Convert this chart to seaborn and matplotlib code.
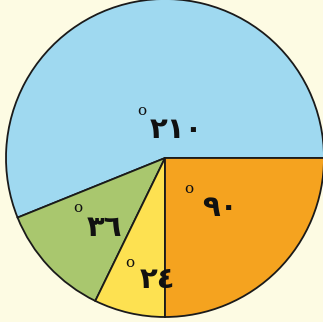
import numpy as np
import matplotlib
matplotlib.use("Agg")
import matplotlib.pyplot as plt
import seaborn as sns

sns.set_theme(style="white")
plt.rcParams['font.family'] = ['DejaVu Sans', 'Noto Sans']

# الزوايا كما تظهر مرسومة في الشكل (بالدرجات)
drawn_angles = [202, 42, 26, 90]
# النصوص المكتوبة على القطاعات
labels = ["٢١٠", "٣٦", "٢٤", "٩٠"]
colors = ["#9fd9f0", "#a9c76e", "#fde151", "#f5a31f"]

# مواضع النصوص (بوحدات نصف القطر، الحافة اليسرى للنص)
label_xy = [(-0.094, 0.176), (-0.491, -0.44), (-0.157, -0.767), (0.233, -0.314)]
degree_xy = [(-0.147, 0.297), (-0.547, -0.314), (-0.22, -0.66), (0.151, -0.195)]

bg = "#fdfbe3"
fig = plt.figure(figsize=(3.23, 3.22), dpi=100)
fig.patch.set_facecolor(bg)
ax = fig.add_axes([0, 0, 1, 1])
ax.set_facecolor(bg)

ax.pie(drawn_angles, colors=colors, startangle=0, counterclock=True,
       radius=1.0, center=(0, 0),
       wedgeprops=dict(edgecolor="#1a1a1a", linewidth=1.3))

for lab, (x, y), (dx, dy) in zip(labels, label_xy, degree_xy):
    ax.text(x, y, lab, ha="left", va="center", fontsize=21,
            fontweight="bold", color="#111111")
    ax.text(dx, dy, "o", ha="center", va="center", fontsize=11,
            family="DejaVu Serif", color="#111111")

ax.set_xlim(-165 / 159, 158 / 159)
ax.set_ylim(-164 / 159, 158 / 159)
ax.set_aspect("auto")
ax.axis("off")

plt.savefig("out.png", dpi=100, facecolor=fig.get_facecolor())
